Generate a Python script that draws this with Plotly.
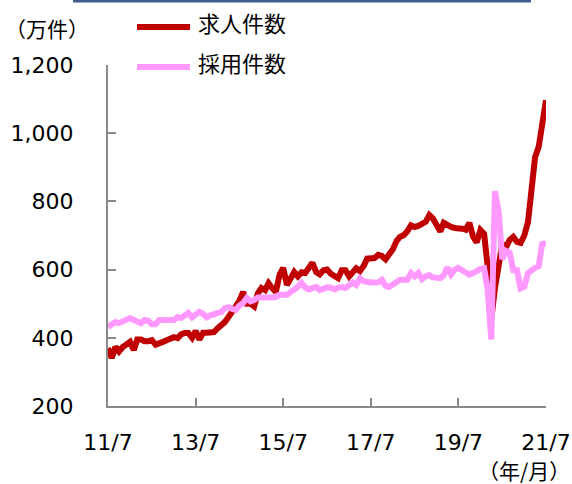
import pandas as pd
import plotly.graph_objects as go

# Monthly data, 2011/7 - 2021/7 (万件)
months = pd.date_range("2011-07-01", periods=121, freq="MS")

kyujin = [
    370, 341, 373, 360, 373, 380, 388, 364, 395, 395,
    390, 390, 393, 380, 382, 388, 393, 397, 402, 399,
    410, 414, 414, 400, 420, 395, 415, 415, 414, 417,
    428, 437, 446, 461, 476, 490, 508, 535, 500, 500,
    492, 530, 546, 540, 560, 545, 535, 585, 605, 555,
    578, 593, 580, 592, 590, 605, 620, 593, 586, 598,
    600, 588, 580, 575, 598, 598, 580, 590, 604, 596,
    610, 632, 632, 634, 643, 640, 630, 645, 660, 684,
    696, 701, 712, 730, 725, 728, 735, 740, 760, 750,
    731, 712, 737, 730, 725, 722, 722, 720, 717, 737,
    696, 680, 716, 705, 610, 455, 545, 625, 675, 665,
    687, 696, 681, 678, 700, 740, 840, 930, 960, 1030,
    1097,
]

saiyo = [
    432, 437, 446, 443, 447, 455, 458, 452, 446, 443,
    452, 450, 440, 440, 452, 452, 456, 455, 452, 461,
    458, 465, 473, 460, 470, 476, 470, 460, 466, 470,
    474, 476, 487, 490, 485, 482, 495, 502, 517, 507,
    511, 518, 518, 517, 520, 518, 520, 526, 526, 526,
    534, 540, 550, 561, 548, 542, 544, 549, 540, 544,
    548, 547, 542, 547, 549, 546, 555, 562, 555, 575,
    566, 562, 562, 562, 563, 570, 552, 549, 555, 565,
    570, 570, 570, 590, 580, 590, 572, 580, 584, 577,
    575, 575, 584, 606, 586, 600, 605, 598, 594, 585,
    590, 598, 602, 604, 540, 395, 830, 770, 630, 655,
    650, 598, 598, 545, 550, 590, 600, 605, 610, 680,
    670,
]

tick_dates = ["2011-07-01", "2013-07-01", "2015-07-01", "2017-07-01", "2019-07-01", "2021-07-01"]
tick_labels = ["11/7", "13/7", "15/7", "17/7", "19/7", "21/7"]
y_ticks = [200, 400, 600, 800, 1000, 1200]

RED = "#c00000"
PINK = "#ff99ff"
AXIS = "#898989"
NUM_FONT = "DejaVu Sans"
JP_FONT = "Noto Sans CJK JP"

fig = go.Figure()
fig.add_trace(go.Scatter(x=months, y=kyujin, mode="lines", name="求人件数",
                         line=dict(color=RED, width=6), cliponaxis=False, showlegend=False))
fig.add_trace(go.Scatter(x=months, y=saiyo, mode="lines", name="採用件数",
                         line=dict(color=PINK, width=6), cliponaxis=False, showlegend=False))

W, H = 572, 484
L, R, T, B = 108, 26, 65, 78
pw, ph = W - L - R, H - T - B


def px(x):
    return (x - L) / pw


def py(y):
    return (H - B - y) / ph


shapes = [
    # top box edge
    dict(type="rect", xref="paper", yref="paper", x0=px(73), x1=px(531), y0=py(2.5), y1=py(-20),
         fillcolor="#3f5e8e", line=dict(width=0), layer="above"),
    # legend lines
    dict(type="line", xref="paper", yref="paper", x0=px(137), x1=px(190), y0=py(27), y1=py(27),
         line=dict(color=RED, width=6)),
    dict(type="line", xref="paper", yref="paper", x0=px(137), x1=px(190), y0=py(67), y1=py(67),
         line=dict(color=PINK, width=6)),
]

annotations = [
    dict(text="求人件数", xref="paper", yref="paper", x=px(196), y=py(22), xanchor="left",
         yanchor="middle", showarrow=False, font=dict(family=JP_FONT, size=22, color="#000")),
    dict(text="採用件数", xref="paper", yref="paper", x=px(196), y=py(62), xanchor="left",
         yanchor="middle", showarrow=False, font=dict(family=JP_FONT, size=22, color="#000")),
    dict(text="（万件）", xref="paper", yref="paper", x=px(3), y=py(28), xanchor="left",
         yanchor="middle", showarrow=False, font=dict(family=JP_FONT, size=21, color="#000")),
    dict(text="（年/月）", xref="paper", yref="paper", x=px(572), y=py(470), xanchor="right",
         yanchor="middle", showarrow=False, font=dict(family=JP_FONT, size=21, color="#000")),
]

fig.update_layout(
    width=W, height=H, autosize=False,
    margin=dict(l=L, r=R, t=T, b=B),
    paper_bgcolor="white", plot_bgcolor="white",
    shapes=shapes, annotations=annotations,
    showlegend=False,
)
fig.update_xaxes(
    range=[months[0], months[-1]],
    tickvals=tick_dates, ticktext=tick_labels,
    showgrid=False, zeroline=False, automargin=False,
    showline=True, linecolor=AXIS, linewidth=2,
    ticks="inside", ticklen=8, tickwidth=1.5, tickcolor=AXIS,
    tickfont=dict(family=NUM_FONT, size=22, color="#000"),
    ticklabelstandoff=16,
)
fig.update_yaxes(
    range=[200, 1200],
    tickvals=y_ticks, tickformat=",",
    showgrid=False, zeroline=False, automargin=False,
    showline=True, linecolor=AXIS, linewidth=2,
    ticks="inside", ticklen=8, tickwidth=1.5, tickcolor=AXIS,
    tickfont=dict(family=NUM_FONT, size=22, color="#000"),
    ticklabelstandoff=28,
)

post = (
    "document.body.style.margin='0';"
    "document.body.style.overflow='hidden';"
)

fig.write_html(
    "out.html",
    config={"displayModeBar": False, "responsive": False},
    post_script=post,
)
